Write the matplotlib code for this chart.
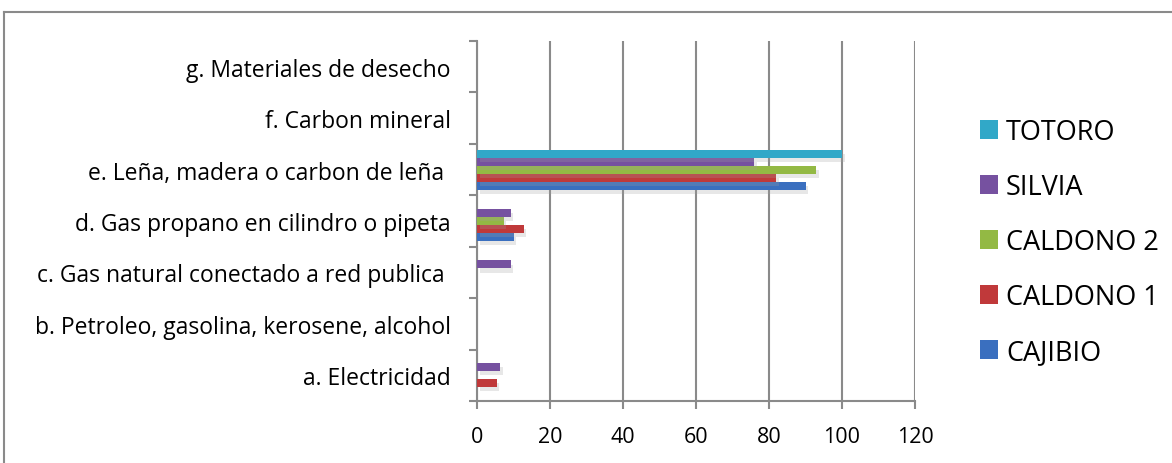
# Horizontal grouped bar chart: fuel used for cooking, by municipality
import numpy as np
import matplotlib
matplotlib.use('Agg')
import matplotlib.pyplot as plt
import matplotlib.patheffects as pe
from matplotlib.lines import Line2D

plt.rcParams['font.family'] = ['Open Sans', 'DejaVu Sans']

# data (percent)
categories = ['a. Electricidad',
              'b. Petroleo, gasolina, kerosene, alcohol',
              'c. Gas natural conectado a red publica ',
              'd. Gas propano en cilindro o pipeta',
              'e. Leña, madera o carbon de leña ',
              'f. Carbon mineral',
              'g. Materiales de desecho']
series_names = ['CAJIBIO', 'CALDONO 1', 'CALDONO 2', 'SILVIA', 'TOTORO']
cajibio   = [0, 0, 0, 10.0, 90, 0, 0]
caldono1  = [5.4, 0, 0, 12.8, 82, 0, 0]
caldono2  = [0, 0, 0, 7.3, 93, 0, 0]
silvia    = [6.3, 0, 9.2, 9.2, 76, 0, 0]
totoro    = [0, 0, 0, 0, 100, 0, 0]
x_ticks = [0, 20, 40, 60, 80, 100, 120]

values = [cajibio, caldono1, caldono2, silvia, totoro]
colors = ['#3a6fbf', '#c0393a', '#93b944', '#7651a0', '#31a8c8']

GRID = '#8a8a8a'

fig = plt.figure(figsize=(11.72, 4.64), dpi=100)
ax = fig.add_axes([477/1172, 1 - 402/464, (915 - 477)/1172, (402 - 42)/464])

y = np.arange(len(categories))
bar_h = 0.156
shadow = [pe.SimplePatchShadow(offset=(2, -3), shadow_rgbFace='#a0a0a0', alpha=0.25),
          pe.Normal()]

for i, (name, vals, col) in enumerate(zip(series_names, values, colors)):
    ax.barh(y + (i - 2) * bar_h, vals, height=bar_h, color=col,
            label=name, zorder=3, path_effects=shadow)

ax.set_xlim(0, 120)
ax.set_ylim(-0.5, len(categories) - 0.5)
ax.set_xticks(x_ticks)
ax.set_yticks(y)
ax.set_yticklabels(categories)
ax.set_yticks(np.arange(-0.5, len(categories)), minor=True)

# grid, spines, ticks in Excel grey
ax.grid(axis='x', color=GRID, linewidth=1.5, zorder=0)
for side in ['top', 'right']:
    ax.spines[side].set_visible(False)
for side in ['left', 'bottom']:
    ax.spines[side].set_color(GRID)
    ax.spines[side].set_linewidth(1.5)
ax.tick_params(axis='y', which='major', length=0, pad=19, labelsize=16.5)
ax.tick_params(axis='y', which='minor', length=6, width=1.5, color=GRID)
ax.tick_params(axis='x', length=6, width=1.5, color=GRID, pad=12, labelsize=15.5)

# legend, top entry first
handles, labels = ax.get_legend_handles_labels()
leg = fig.legend(handles[::-1], labels[::-1], loc='center left',
                 bbox_to_anchor=(966/1172, 1 - 243/464), frameon=False,
                 fontsize=19.5, handlelength=0.68, handleheight=0.68,
                 handletextpad=0.3, labelspacing=1.0, borderpad=0)
for h in leg.legend_handles:
    h.set_path_effects([])

# outer chart frame (top and left edges are visible in the picture)
fig.add_artist(Line2D([4/1172, 1], [1 - 13/464, 1 - 13/464], color=GRID, lw=1.5))
fig.add_artist(Line2D([4/1172, 4/1172], [0, 1 - 13/464], color=GRID, lw=1.5))

fig.savefig('out.png', dpi=100)
